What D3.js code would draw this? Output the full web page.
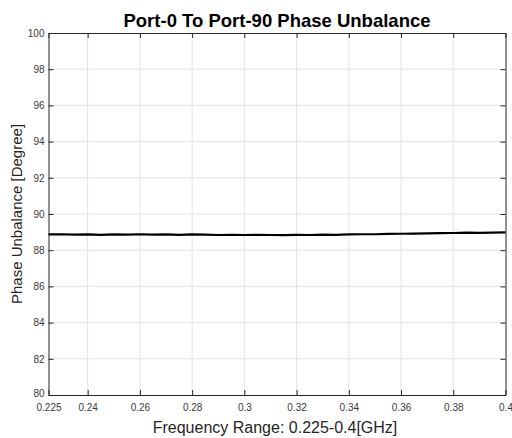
<!DOCTYPE html>
<html>
<head>
<meta charset="utf-8">
<script src="https://cdn.jsdelivr.net/npm/d3@7"></script>
<style>
  body { margin: 0; background: #fff; }
  text { font-family: "Liberation Sans", Arial, sans-serif; }
</style>
</head>
<body>
<div id="T"></div>
<script>
const freqs = [0.225, 0.23, 0.235, 0.24, 0.245, 0.25, 0.255, 0.26, 0.265, 0.27,
  0.275, 0.28, 0.285, 0.29, 0.295, 0.3, 0.305, 0.31, 0.315, 0.32,
  0.325, 0.33, 0.335, 0.34, 0.345, 0.35, 0.355, 0.36, 0.365, 0.37,
  0.375, 0.38, 0.385, 0.39, 0.395, 0.4];
const phase = [88.87, 88.88, 88.86, 88.87, 88.85, 88.87, 88.86, 88.88, 88.86, 88.87,
  88.85, 88.87, 88.86, 88.84, 88.85, 88.84, 88.85, 88.84, 88.83, 88.85,
  88.84, 88.86, 88.85, 88.87, 88.88, 88.88, 88.9, 88.91, 88.92, 88.93,
  88.94, 88.95, 88.97, 88.96, 88.97, 88.98];
const xTicks = [0.225, 0.24, 0.26, 0.28, 0.3, 0.32, 0.34, 0.36, 0.38, 0.4];
const yTicks = [80, 82, 84, 86, 88, 90, 92, 94, 96, 98, 100];

const width = 512, height = 438;
const m = { left: 48.5, right: 6.5, top: 33, bottom: 43 };

const svg = d3.select('#T').append('svg')
  .attr('width', width)
  .attr('height', height);

const x = d3.scaleLinear().domain([0.225, 0.4]).range([m.left, width - m.right]);
const y = d3.scaleLinear().domain([80, 100]).range([height - m.bottom, m.top]);

// grid
svg.append('g').selectAll('line').data(xTicks.slice(1, -1)).join('line')
  .attr('x1', d => x(d)).attr('x2', d => x(d))
  .attr('y1', y(80)).attr('y2', y(100))
  .attr('stroke', '#e3e3e3').attr('stroke-width', 1);
svg.append('g').selectAll('line').data(yTicks.slice(1, -1)).join('line')
  .attr('x1', x(0.225)).attr('x2', x(0.4))
  .attr('y1', d => y(d)).attr('y2', d => y(d))
  .attr('stroke', '#e3e3e3').attr('stroke-width', 1);

// axes (ticks pointing inward, mirrored on top/right)
const fmtX = d => d3.format('')(+d.toFixed(3));
const axB = svg.append('g').attr('transform', `translate(0,${y(80)})`)
  .call(d3.axisBottom(x).tickValues(xTicks).tickSizeInner(-5).tickSizeOuter(0).tickPadding(9).tickFormat(fmtX));
const axT = svg.append('g').attr('transform', `translate(0,${y(100)})`)
  .call(d3.axisTop(x).tickValues(xTicks).tickSizeInner(-5).tickSizeOuter(0).tickFormat(''));
const axL = svg.append('g').attr('transform', `translate(${x(0.225)},0)`)
  .call(d3.axisLeft(y).tickValues(yTicks).tickSizeInner(-5).tickSizeOuter(0).tickPadding(4));
const axR = svg.append('g').attr('transform', `translate(${x(0.4)},0)`)
  .call(d3.axisRight(y).tickValues(yTicks).tickSizeInner(-5).tickSizeOuter(0).tickFormat(''));

[axB, axT, axL, axR].forEach(a => {
  a.select('.domain').attr('stroke', '#262626');
  a.selectAll('.tick line').attr('stroke', '#262626');
  a.selectAll('text').attr('fill', '#3a3a3a').style('font-size', '10px')
    .style('font-family', '"Liberation Sans", Arial, sans-serif');
});
axL.selectAll('.tick').filter(d => d === 80).select('text').attr('dy', '0.15em');

// data line
const line = d3.line().x((d, i) => x(freqs[i])).y(d => y(d)).curve(d3.curveLinear);
svg.append('path').datum(phase)
  .attr('d', line)
  .attr('fill', 'none')
  .attr('stroke', '#000')
  .attr('stroke-width', 2.2);

// labels
svg.append('text')
  .attr('x', 277).attr('y', 26.5)
  .attr('text-anchor', 'middle')
  .style('font-size', '18.5px').style('font-weight', 'bold')
  .attr('fill', '#000')
  .text('Port-0 To Port-90 Phase Unbalance');

svg.append('text')
  .attr('x', 275).attr('y', 433)
  .attr('text-anchor', 'middle')
  .style('font-size', '16px')
  .attr('fill', '#262626')
  .text('Frequency Range: 0.225-0.4[GHz]');

svg.append('text')
  .attr('transform', `translate(22,${(y(80) + y(100)) / 2}) rotate(-90)`)
  .attr('text-anchor', 'middle')
  .style('font-size', '15px')
  .attr('fill', '#262626')
  .text('Phase Unbalance [Degree]');
</script>
</body>
</html>
